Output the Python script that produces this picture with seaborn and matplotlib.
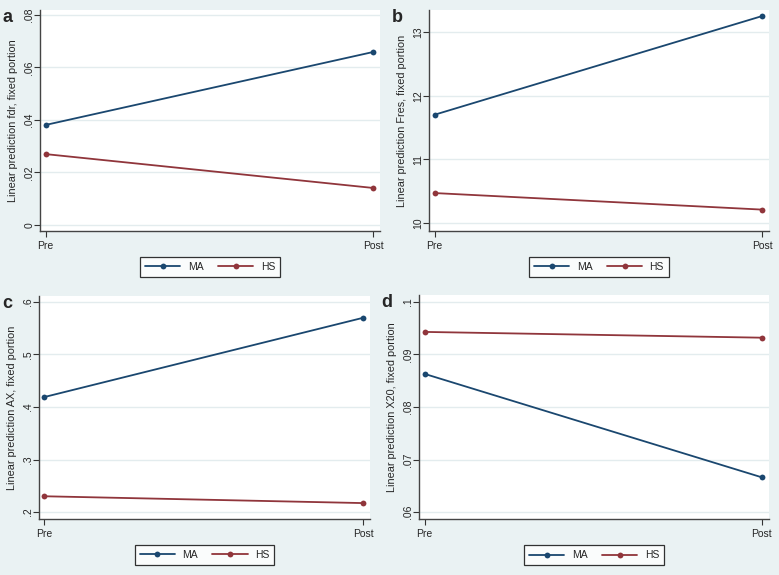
import matplotlib
matplotlib.use("Agg")
import matplotlib.pyplot as plt
import seaborn as sns
import pandas as pd

# data
periods = ["Pre", "Post"]

ma_fdr = [0.0381, 0.0659]
hs_fdr = [0.0270, 0.0141]
ticks_fdr = [0, 0.02, 0.04, 0.06, 0.08]
ticklabels_fdr = ["0", ".02", ".04", ".06", ".08"]

ma_fres = [11.70, 13.25]
hs_fres = [10.47, 10.21]
ticks_fres = [10, 11, 12, 13]
ticklabels_fres = ["10", "11", "12", "13"]

ma_ax = [0.419, 0.570]
hs_ax = [0.230, 0.217]
ticks_ax = [0.2, 0.3, 0.4, 0.5, 0.6]
ticklabels_ax = [".2", ".3", ".4", ".5", ".6"]

ma_x20 = [0.0863, 0.0666]
hs_x20 = [0.0943, 0.0932]
ticks_x20 = [0.06, 0.07, 0.08, 0.09, 0.1]
ticklabels_x20 = [".06", ".07", ".08", ".09", ".1"]

groups = ["MA", "HS"]
colors = {"MA": "#1A476F", "HS": "#90353B"}

sns.set_style("white")
plt.rcParams["font.family"] = ["Liberation Sans", "DejaVu Sans"]

W, H = 779, 575
BG = "#EAF2F3"
fig = plt.figure(figsize=(W / 100, H / 100), dpi=100, facecolor=BG)


def px_axes(left, top, right, bottom):
    return fig.add_axes([left / W, 1 - bottom / H, (right - left) / W, (bottom - top) / H])


def make_df(ma, hs):
    rows = []
    for g, vals in zip(groups, [ma, hs]):
        for p, v in zip(periods, vals):
            rows.append({"period": p, "group": g, "value": v})
    return pd.DataFrame(rows)


panels = [
    ("a", "fdr", ma_fdr, hs_fdr, ticks_fdr, ticklabels_fdr, (-0.0023, 0.0819), (40, 10, 380, 231)),
    ("b", "Fres", ma_fres, hs_fres, ticks_fres, ticklabels_fres, (9.874, 13.345), (429, 10, 769, 231)),
    ("c", "AX", ma_ax, hs_ax, ticks_ax, ticklabels_ax, (0.1867, 0.6114), (39, 296, 370, 519)),
    ("d", "X20", ma_x20, hs_x20, ticks_x20, ticklabels_x20, (0.05867, 0.10133), (419, 295, 769, 519)),
]

for letter, var, ma, hs, ticks, ticklabels, ylim, box in panels:
    ax = px_axes(*box)
    ax.set_facecolor("white")
    df = make_df(ma, hs)
    sns.lineplot(data=df, x="period", y="value", hue="group", palette=colors,
                 marker="o", markersize=4.2, markeredgewidth=0, linewidth=1.3,
                 sort=False, ax=ax)
    ax.set_xlim(-0.017, 1.021)
    ax.set_ylim(*ylim)
    ax.set_yticks(ticks)
    ax.set_yticklabels(ticklabels, rotation=90, va="center")
    ax.yaxis.grid(True, color="#E3ECEE", linewidth=1)
    ax.set_axisbelow(True)
    ax.tick_params(axis="both", labelsize=7.5, length=4, width=0.8, color="#333333", pad=3)
    ax.tick_params(axis="y", left=True, pad=0)
    ax.tick_params(axis="x", bottom=True)
    for side in ["top", "right"]:
        ax.spines[side].set_visible(False)
    for side in ["left", "bottom"]:
        ax.spines[side].set_color("#444444")
        ax.spines[side].set_linewidth(1.0)
    ax.set_xlabel("")
    ax.set_ylabel(f"Linear prediction {var}, fixed portion", fontsize=7.8)
    ax.yaxis.set_label_coords(-22 / (box[2] - box[0]), 0.5)
    leg = ax.legend(loc="upper center", bbox_to_anchor=(0.5, -0.095), ncol=2,
                    frameon=True, fancybox=False, edgecolor="black", fontsize=7.5,
                    handlelength=3.4, columnspacing=1.4, borderpad=0.45,
                    handletextpad=0.7)
    leg.get_frame().set_linewidth(0.9)
    fig.text((box[0] - 32) / W, 1 - (box[1] - 1) / H, letter, fontsize=13,
             fontweight="bold", va="top", ha="center")

fig.savefig("out.png", dpi=100, facecolor=BG)
